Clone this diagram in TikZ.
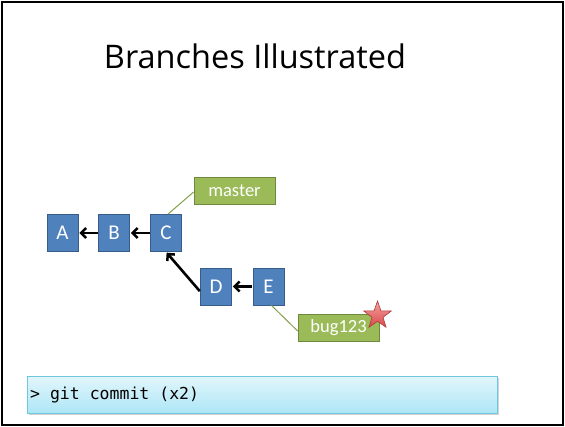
\documentclass[tikz,border=0pt]{standalone}
\usepackage{fontspec}
\setmainfont{Carlito}
\newfontfamily\titlefont{Open Sans}
\newfontfamily\codefont{DejaVu Sans Mono}
\usetikzlibrary{shapes.geometric,arrows.meta,shadows}
\definecolor{commitfill}{HTML}{4F81BD}
\definecolor{commitline}{HTML}{385D8A}
\definecolor{reffill}{HTML}{9BBB59}
\definecolor{refline}{HTML}{71893F}
\definecolor{startop}{HTML}{F4A0A0}
\definecolor{starbot}{HTML}{D94A4A}
\definecolor{cmdtop}{HTML}{E2F6FC}
\definecolor{cmdbot}{HTML}{ADE6F6}
\definecolor{cmdline}{HTML}{6CC7DF}
\tikzset{
  commit/.style={draw=commitline, fill=commitfill, line width=0.8pt,
    minimum width=31pt, minimum height=37pt, inner sep=0pt,
    text=white, font=\fontsize{21}{21}\selectfont},
  branchref/.style={draw=refline, fill=reffill, line width=0.8pt,
    minimum height=27pt, inner sep=0pt,
    text=white, font=\fontsize{18.5}{18.5}\selectfont},
  parent/.style={-{Straight Barb[length=5pt,width=10pt,line width=2.5pt]},
    line width=2.6pt, black, shorten >=1pt, shorten <=0.5pt},
  pointer/.style={draw=reffill!85!black, line width=1pt},
}
\begin{document}
\begin{tikzpicture}[x=1pt,y=-1pt]
  % slide frame
  \useasboundingbox (0,0) rectangle (565,427);
  \draw[line width=2pt] (2,2) rectangle (563,425);

  % title
  \node[font=\titlefont\fontsize{32.5}{32.5}\selectfont] (title) at (255,56) {Branches Illustrated};

  % commits
  \node[commit] (A) at (62.5,233) {A};
  \node[commit] (B) at (114,233) {B};
  \node[commit] (C) at (166,233) {C};
  \node[commit] (D) at (216,286.5) {D};
  \node[commit] (E) at (268.5,286.5) {E};

  % parent links
  \draw[parent] (B.west) -- (A.east);
  \draw[parent] (C.west) -- (B.east);
  \draw[parent] (E.west) -- (D.east);
  \draw[parent] ([yshift=-5pt]D.west) -- (C.south);

  % branch labels
  \node[branchref, minimum width=81pt] (master) at (234.5,191) {master};
  \node[branchref, minimum width=81pt] (bug) at (338.5,328) {bug123};
  \draw[pointer] ([xshift=2pt]C.north) -- ([yshift=-1pt]master.west);
  \draw[pointer] ([xshift=3pt]E.south) -- ([yshift=-3pt]bug.west);

  % current-branch marker
  \node[star, star points=5, star point ratio=2.5, minimum size=29pt, inner sep=0pt,
        draw=starbot!80!black, line width=0.6pt, top color=startop, bottom color=starbot]
        (current) at (377.5,315.5) {};

  % command bar
  \node[draw=cmdline, line width=1pt, top color=cmdtop, bottom color=cmdbot,
        minimum width=469.5pt, minimum height=37pt, inner sep=0pt,
        drop shadow={shadow xshift=1.5pt, shadow yshift=-1.5pt, opacity=0.35}]
        (cmdbar) at (262.5,394.7) {};
  \node[anchor=west, font=\codefont\fontsize{16.5}{16.5}\selectfont, inner sep=0pt]
        (cmd) at (30,395) {> git commit (x2)};
\end{tikzpicture}
\end{document}
